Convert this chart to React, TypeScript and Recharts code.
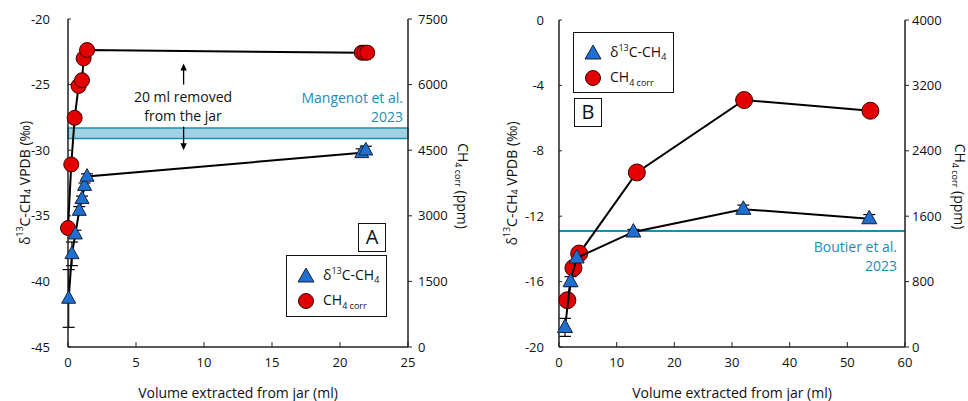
import React from 'react';
import {
  ComposedChart,
  Scatter,
  XAxis,
  YAxis,
  ErrorBar,
  ReferenceArea,
  ReferenceLine,
} from 'recharts';

// ---- Panel A ----
const aDeltaX = [0.05, 0.29, 0.54, 0.83, 1.03, 1.22, 1.4, 21.6, 21.9];
const aDeltaY = [-41.3, -37.9, -36.4, -34.6, -33.7, -32.7, -32.0, -30.2, -30.0];
const aDeltaErr = [2.2, 0.9, 0.3, 0.3, 0.2, 0.2, 0.2, 0.3, 0.3];
const aCh4X = [0, 0.24, 0.49, 0.78, 1.03, 1.15, 1.4, 21.6, 21.8, 22.0];
const aCh4Y = [2720, 4175, 5240, 5970, 6100, 6600, 6790, 6730, 6730, 6730];
const aXTicks = [0, 5, 10, 15, 20, 25];
const aLeftTicks = [-45, -40, -35, -30, -25, -20];
const aRightTicks = [0, 1500, 3000, 4500, 6000, 7500];
const mangenotBand = [-29.1, -28.3];

// ---- Panel B ----
const bDeltaX = [1.04, 2.0, 3.07, 12.9, 31.96, 53.8];
const bDeltaY = [-18.8, -16.0, -14.55, -12.96, -11.57, -12.15];
const bDeltaErr = [0.55, 0.3, 0.2, 0.15, 0.25, 0.25];
const bCh4X = [1.45, 2.5, 3.5, 13.5, 32.1, 54.0];
const bCh4Y = [572, 967, 1143, 2135, 3021, 2890];
const bXTicks = [0, 10, 20, 30, 40, 50, 60];
const bLeftTicks = [-20, -16, -12, -8, -4, 0];
const bRightTicks = [0, 800, 1600, 2400, 3200, 4000];
const boutierLine = -12.9;

const BLUE = '#1f6fd0';
const RED = '#e30000';
const TEAL = '#1a8db4';
const FONT = '"Open Sans", "Noto Sans", sans-serif';

const zip = (xs: number[], ys: number[], key: string, errs?: number[]) =>
  xs.map((x, i) => ({ x, [key]: ys[i], err: errs ? errs[i] : 0 }));

const triangle = (s: number) => (p: any) => {
  const { cx, cy } = p;
  const h = s * 0.9;
  return (
    <path
      d={`M${cx},${cy - h * 0.62} L${cx + s / 2},${cy + h * 0.38} L${cx - s / 2},${cy + h * 0.38} Z`}
      fill={BLUE}
      stroke="#14233a"
      strokeWidth={1}
    />
  );
};

const circle = (r: number) => (p: any) => (
  <circle cx={p.cx} cy={p.cy} r={r} fill={RED} stroke="#3a0000" strokeWidth={1} />
);

const Arrow = (p: any) => {
  const { x1, y1, x2, y2 } = p;
  const d = y2 < y1 ? -1 : 1;
  return (
    <g>
      <line x1={x1} y1={y1} x2={x2} y2={y2 - d * 4} stroke="#000" strokeWidth={1.3} />
      <path d={`M${x2 - 3.2},${y2 - d * 7} L${x2},${y2} L${x2 + 3.2},${y2 - d * 7} Z`} fill="#000" />
    </g>
  );
};

const DeltaLabel = (dx: number) => (props: any) => {
  const vb = props.viewBox;
  const cx = vb.x + dx;
  const cy = vb.y + vb.height / 2;
  return (
    <text
      transform={`translate(${cx},${cy}) rotate(-90)`}
      textAnchor="middle"
      dominantBaseline="central"
      fontSize={14}
      fontFamily={FONT}
      fill="#111"
    >
      δ<tspan dy={-5} fontSize={9}>13</tspan>
      <tspan dy={5}>C-CH</tspan>
      <tspan dy={3} fontSize={9}>4</tspan>
      <tspan dy={-3}> VPDB (‰)</tspan>
    </text>
  );
};

const Ch4Label = (dx: number) => (props: any) => {
  const vb = props.viewBox;
  const cx = vb.x + dx;
  const cy = vb.y + vb.height / 2 + 3;
  return (
    <text
      transform={`translate(${cx},${cy}) rotate(90)`}
      textAnchor="middle"
      dominantBaseline="central"
      fontSize={14}
      fontFamily={FONT}
      fill="#111"
    >
      CH<tspan dy={4} fontSize={9}>4 corr</tspan>
      <tspan dy={-4}> (ppm)</tspan>
    </text>
  );
};

const tickStyle = { fontSize: 13, fill: '#111', fontFamily: FONT };
const axisLine = { stroke: '#222', strokeWidth: 1.5 };

const LegendBox = ({ style }: { style: React.CSSProperties }) => (
  <div
    style={{
      position: 'absolute',
      border: '1.5px solid #111',
      boxSizing: 'border-box',
      background: '#fff',
      fontFamily: FONT,
      fontSize: 14,
      color: '#111',
      ...style,
    }}
  >
    <div style={{ position: 'absolute', left: 10, top: 8, display: 'flex', alignItems: 'center' }}>
      <svg width={18} height={18}>
        <path d="M9,2 L17,16 L1,16 Z" fill={BLUE} stroke="#14233a" strokeWidth={1} />
      </svg>
      <span style={{ marginLeft: 8 }}>
        δ<sup style={{ fontSize: 9 }}>13</sup>C-CH<sub style={{ fontSize: 9 }}>4</sub>
      </span>
    </div>
    <div style={{ position: 'absolute', left: 10, top: 34, display: 'flex', alignItems: 'center' }}>
      <svg width={18} height={18}>
        <circle cx={9} cy={9} r={7.5} fill={RED} stroke="#3a0000" strokeWidth={1} />
      </svg>
      <span style={{ marginLeft: 8 }}>
        CH<sub style={{ fontSize: 9 }}>4 corr</sub>
      </span>
    </div>
  </div>
);

const PanelTag = ({ text, style }: { text: string; style: React.CSSProperties }) => (
  <div
    style={{
      position: 'absolute',
      border: '1.5px solid #111',
      boxSizing: 'border-box',
      background: '#fff',
      fontFamily: FONT,
      fontSize: 20,
      lineHeight: '26px',
      textAlign: 'center',
      color: '#111',
      ...style,
    }}
  >
    {text}
  </div>
);

const textStyle: React.CSSProperties = {
  position: 'absolute',
  fontFamily: FONT,
  fontSize: 14,
  lineHeight: '19px',
};

export default function App() {
  const aDelta = zip(aDeltaX, aDeltaY, 'd', aDeltaErr);
  const aCh4 = zip(aCh4X, aCh4Y, 'c');
  const bDelta = zip(bDeltaX, bDeltaY, 'd', bDeltaErr);
  const bCh4 = zip(bCh4X, bCh4Y, 'c');

  return (
    <div style={{ position: 'absolute', left: 0, top: 0, width: 968, height: 401, background: '#fff', overflow: 'hidden' }}>
      {/* Panel A */}
      <div style={{ position: 'absolute', left: 0, top: 0 }}>
        <ComposedChart width={480} height={401} margin={{ top: 19, right: 0, bottom: 0, left: 0 }}>
          <XAxis
            dataKey="x"
            type="number"
            domain={[0, 25]}
            ticks={aXTicks}
            height={54}
            tick={tickStyle}
            tickSize={-5}
            tickMargin={16}
            tickLine={{ stroke: '#222' }}
            axisLine={axisLine}
            label={{ value: 'Volume extracted from jar (ml)', position: 'insideBottom', offset: 3, style: { ...tickStyle, fontSize: 14 } }}
          />
          <XAxis xAxisId="top" orientation="top" type="number" domain={[0, 25]} height={0} tick={false} tickLine={false} axisLine={axisLine} />
          <YAxis
            yAxisId="left"
            dataKey="d"
            type="number"
            domain={[-45, -20]}
            ticks={aLeftTicks}
            width={68}
            tick={tickStyle}
            tickSize={-3}
            tickMargin={21}
            tickLine={{ stroke: '#222' }}
            axisLine={axisLine}
            label={DeltaLabel(24)}
          />
          <YAxis
            yAxisId="right"
            orientation="right"
            dataKey="c"
            type="number"
            domain={[0, 7500]}
            ticks={aRightTicks}
            width={72}
            tick={tickStyle}
            tickSize={4}
            tickMargin={6}
            tickLine={{ stroke: '#222' }}
            axisLine={axisLine}
            label={Ch4Label(55)}
          />
          <ReferenceArea
            yAxisId="left"
            y1={mangenotBand[0]}
            y2={mangenotBand[1]}
            fill="#9fd3e3"
            fillOpacity={1}
            stroke={TEAL}
            strokeWidth={1.5}
          />
          <ReferenceLine yAxisId="left" segment={[{ x: 8.5, y: -25.0 }, { x: 8.5, y: -23.4 }]} shape={Arrow} />
          <ReferenceLine yAxisId="left" segment={[{ x: 8.5, y: -28.2 }, { x: 8.5, y: -30.0 }]} shape={Arrow} />
          <Scatter
            yAxisId="right"
            data={aCh4}
            line={{ stroke: '#000', strokeWidth: 2 }}
            lineType="joint"
            shape={circle(7.5)}
            isAnimationActive={false}
          />
          <Scatter
            yAxisId="left"
            data={aDelta}
            line={{ stroke: '#000', strokeWidth: 2 }}
            lineType="joint"
            shape={triangle(14)}
            isAnimationActive={false}
          >
            <ErrorBar dataKey="err" direction="y" width={6} stroke="#000" strokeWidth={1.2} isAnimationActive={false} />
          </Scatter>
        </ComposedChart>
        <div style={{ ...textStyle, left: 123, top: 87, width: 120, textAlign: 'center', color: '#111', background: 'transparent' }}>
          20 ml removed
          <br />
          from the jar
        </div>
        <div style={{ ...textStyle, left: 262, top: 88, width: 141, textAlign: 'right', color: TEAL }}>
          Mangenot et al.
          <br />
          2023
        </div>
        <PanelTag text="A" style={{ left: 358, top: 223, width: 28, height: 29 }} />
        <LegendBox style={{ left: 286, top: 255, width: 101, height: 62 }} />
      </div>

      {/* Panel B */}
      <div style={{ position: 'absolute', left: 480, top: 0 }}>
        <ComposedChart width={488} height={401} margin={{ top: 20, right: 0, bottom: 0, left: 0 }}>
          <XAxis
            dataKey="x"
            type="number"
            domain={[0, 60]}
            ticks={bXTicks}
            height={54}
            tick={tickStyle}
            tickSize={-5}
            tickMargin={16}
            tickLine={{ stroke: '#222' }}
            axisLine={axisLine}
            label={{ value: 'Volume extracted from jar (ml)', position: 'insideBottom', offset: 3, style: { ...tickStyle, fontSize: 14 } }}
          />
          <XAxis xAxisId="top" orientation="top" type="number" domain={[0, 60]} height={0} tick={false} tickLine={false} axisLine={axisLine} />
          <YAxis
            yAxisId="left"
            dataKey="d"
            type="number"
            domain={[-20, 0]}
            ticks={bLeftTicks}
            width={79}
            tick={tickStyle}
            tickSize={-3}
            tickMargin={18}
            tickLine={{ stroke: '#222' }}
            axisLine={axisLine}
            label={DeltaLabel(31)}
          />
          <YAxis
            yAxisId="right"
            orientation="right"
            dataKey="c"
            type="number"
            domain={[0, 4000]}
            ticks={bRightTicks}
            width={63}
            tick={tickStyle}
            tickSize={4}
            tickMargin={3}
            tickLine={{ stroke: '#222' }}
            axisLine={axisLine}
            label={Ch4Label(55)}
          />
          <ReferenceLine yAxisId="left" y={boutierLine} stroke={TEAL} strokeWidth={2} />
          <Scatter
            yAxisId="right"
            data={bCh4}
            line={{ stroke: '#000', strokeWidth: 2 }}
            lineType="joint"
            shape={circle(8.5)}
            isAnimationActive={false}
          />
          <Scatter
            yAxisId="left"
            data={bDelta}
            line={{ stroke: '#000', strokeWidth: 2 }}
            lineType="joint"
            shape={triangle(15)}
            isAnimationActive={false}
          >
            <ErrorBar dataKey="err" direction="y" width={6} stroke="#000" strokeWidth={1.2} isAnimationActive={false} />
          </Scatter>
        </ComposedChart>
        <div style={{ ...textStyle, left: 317, top: 237, width: 100, textAlign: 'right', color: TEAL }}>
          Boutier et al.
          <br />
          2023
        </div>
        <LegendBox style={{ left: 93, top: 32, width: 101, height: 61 }} />
        <PanelTag text="B" style={{ left: 94, top: 98, width: 28, height: 29 }} />
      </div>
    </div>
  );
}
